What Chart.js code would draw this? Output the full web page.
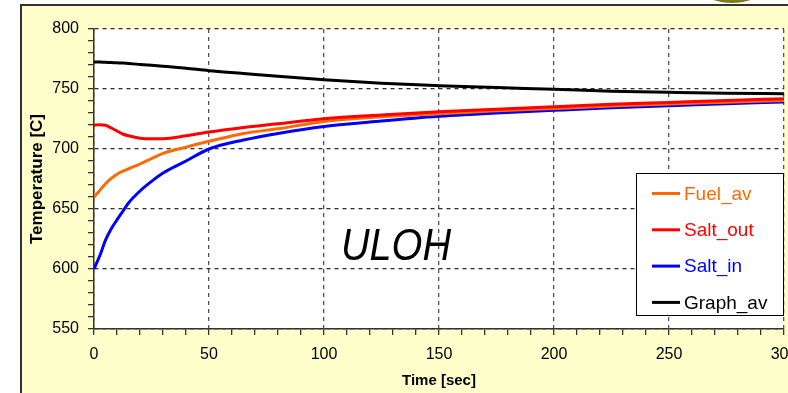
<!DOCTYPE html>
<html>
<head>
<meta charset="utf-8">
<script src="https://cdn.jsdelivr.net/npm/chart.js@4/dist/chart.umd.min.js"></script>
<style>
  html, body { margin: 0; padding: 0; background: #fff; }
  #wrap { width: 788px; height: 393px; position: relative; }
</style>
</head>
<body>
<div id="wrap"><canvas id="chart" width="788" height="393"></canvas></div>
<script>
// Dane (czas w sekundach, temperatura w C)
const timeSec = [0, 2.5, 5, 7.5, 10, 12.5, 15, 20, 25, 30, 40, 50, 65, 80, 100, 125, 150, 175, 200, 225, 250, 275, 300];
const fuelAv  = [660, 665.5, 671, 675.5, 679, 681.5, 683.5, 687.5, 692, 696.4, 701.6, 706.4, 713, 716.8, 723, 726.8, 729.4, 731.8, 733.8, 735.8, 737.5, 739, 740.5];
const saltOut = [720, 720.2, 719.8, 717.5, 715, 712.5, 711, 709, 708.5, 708.6, 711, 714.2, 718, 721, 725.3, 728.4, 731, 733.2, 735.3, 737.2, 738.8, 740.4, 741.9];
const saltIn  = [600, 611, 624, 633.5, 641, 648, 655, 665, 673, 680, 690, 700, 707.5, 713, 718.8, 723.3, 727.2, 730, 732.2, 734.3, 736.1, 737.7, 739.2];
const graphAv = [772.5, 772.4, 772.2, 772, 771.8, 771.6, 771.2, 770.5, 769.8, 769, 767.3, 765.3, 763, 760.6, 757.7, 754.8, 752.8, 751.2, 749.8, 748.2, 747.3, 746.5, 746];

const seriesNames = ['Fuel_av', 'Salt_out', 'Salt_in', 'Graph_av'];
const seriesColors = ['#FF6A00', '#FF0000', '#0000FF', '#000000'];
const seriesValues = [fuelAv, saltOut, saltIn, graphAv];
const drawOrder = [2, 1, 3, 4]; // Salt_out na wierzchu

const toPoints = (vals) => vals.map((v, i) => ({ x: timeSec[i], y: v }));

// Tło slajdu, ramka i białe pole wykresu
const backgroundPlugin = {
    id: 'slideBackground',
    beforeDraw(chart) {
        const { ctx, width, height, chartArea } = chart;
        ctx.save();
        ctx.fillStyle = '#ffffff';
        ctx.fillRect(0, 0, width, height);
        ctx.fillStyle = '#FFFFCC';
        ctx.fillRect(21, 5, width - 21, height - 5);
        // kawałek ozdoby u góry
        ctx.fillStyle = '#7d7a1e';
        ctx.beginPath();
        ctx.ellipse(732, -6, 25, 9, 0, 0, Math.PI * 2);
        ctx.fill();
        ctx.strokeStyle = '#333333';
        ctx.lineWidth = 2;
        ctx.beginPath();
        ctx.moveTo(21, height);
        ctx.lineTo(21, 5);
        ctx.lineTo(width, 5);
        ctx.stroke();
        ctx.fillStyle = '#ffffff';
        ctx.fillRect(chartArea.left, chartArea.top, chartArea.right - chartArea.left, chartArea.bottom - chartArea.top);
        ctx.restore();
    }
};

// Legenda w ramce wewnątrz wykresu + napis ULOH
const overlayPlugin = {
    id: 'overlay',
    afterDatasetsDraw(chart) {
        const { ctx, chartArea } = chart;
        ctx.save();
        // napis ULOH
        ctx.translate(341, 260);
        ctx.scale(0.9, 1);
        ctx.font = 'italic 44px "Liberation Sans", Arial, sans-serif';
        ctx.fillStyle = '#000';
        ctx.textBaseline = 'alphabetic';
        ctx.fillText('ULOH', 0, 0);
        ctx.restore();

        const boxLeft = 636, boxTop = 173, boxRight = chartArea.right, boxBottom = 316;
        ctx.save();
        ctx.fillStyle = '#ffffff';
        ctx.fillRect(boxLeft, boxTop, boxRight - boxLeft, boxBottom - boxTop);
        ctx.strokeStyle = '#000';
        ctx.lineWidth = 1;
        ctx.strokeRect(boxLeft + 0.5, boxTop + 0.5, boxRight - boxLeft - 1, boxBottom - boxTop - 1);
        ctx.font = '19px "Liberation Sans", Arial, sans-serif';
        ctx.textBaseline = 'middle';
        chart.data.datasets.forEach((ds, i) => {
            const y = boxTop + 20.5 + i * 36.3;
            ctx.strokeStyle = ds.borderColor;
            ctx.lineWidth = 3;
            ctx.beginPath();
            ctx.moveTo(652, y);
            ctx.lineTo(680, y);
            ctx.stroke();
            ctx.fillStyle = ds.borderColor;
            ctx.fillText(ds.label, 684, y + 1);
        });
        ctx.restore();
    }
};

const ctx = document.getElementById('chart').getContext('2d');
const chart = new Chart(ctx, {
    type: 'line',
    data: {
        datasets: seriesNames.map((name, i) => ({
            label: name,
            data: toPoints(seriesValues[i]),
            borderColor: seriesColors[i],
            backgroundColor: seriesColors[i],
            borderWidth: 3,
            pointRadius: 0,
            cubicInterpolationMode: 'monotone',
            order: drawOrder[i]
        }))
    },
    options: {
        responsive: false,
        animation: false,
        layout: { padding: { top: 29, right: 4, left: 0, bottom: 0 } },
        plugins: {
            legend: { display: false },
            tooltip: { enabled: false }
        },
        scales: {
            x: {
                type: 'linear',
                min: 0,
                max: 300,
                ticks: {
                    stepSize: 10,
                    autoSkip: false,
                    maxRotation: 0,
                    padding: 10,
                    color: '#000',
                    font: { family: '"Liberation Sans", Arial, sans-serif', size: 16 },
                    callback: (v) => (v % 50 === 0 ? String(v) : '')
                },
                grid: {
                    color: (c) => (c.tick && c.tick.value % 50 === 0 ? '#555' : 'rgba(0,0,0,0)'),
                    tickColor: '#333',
                    tickLength: 6,
                    tickBorderDash: [],
                    lineWidth: 1.3
                },
                // dash dotyczy linii siatki, sama oś zostaje ciągła
                border: { display: true, color: '#333', width: 1.5, dash: [4, 4] },
                title: {
                    display: true,
                    text: 'Time [sec]',
                    color: '#000',
                    font: { family: '"Liberation Sans", Arial, sans-serif', size: 15, weight: 'bold' },
                    padding: { top: 0, bottom: 3 }
                },
                afterFit: (scale) => {
                    scale.height = 64;
                    scale.paddingLeft = 0;
                    scale.paddingRight = 0;
                }
            },
            y: {
                min: 550,
                max: 800,
                ticks: {
                    stepSize: 10,
                    autoSkip: false,
                    padding: 9,
                    color: '#000',
                    font: { family: '"Liberation Sans", Arial, sans-serif', size: 16 },
                    callback: (v) => (v % 50 === 0 ? String(v) : '')
                },
                grid: {
                    color: (c) => (c.tick && c.tick.value % 50 === 0 ? '#333' : 'rgba(0,0,0,0)'),
                    tickColor: '#333',
                    tickLength: 6,
                    tickBorderDash: [],
                    lineWidth: 1.3
                },
                border: { display: true, color: '#333', width: 1.5, dash: [4, 4] },
                title: {
                    display: true,
                    text: 'Temperature [C]',
                    color: '#000',
                    font: { family: '"Liberation Sans", Arial, sans-serif', size: 17, weight: 'bold' },
                    padding: { top: 27, bottom: 0 }
                },
                afterFit: (scale) => {
                    scale.width = 94;
                    scale.paddingTop = 0;
                    scale.paddingBottom = 0;
                }
            }
        }
    },
    plugins: [backgroundPlugin, overlayPlugin]
});
</script>
</body>
</html>
